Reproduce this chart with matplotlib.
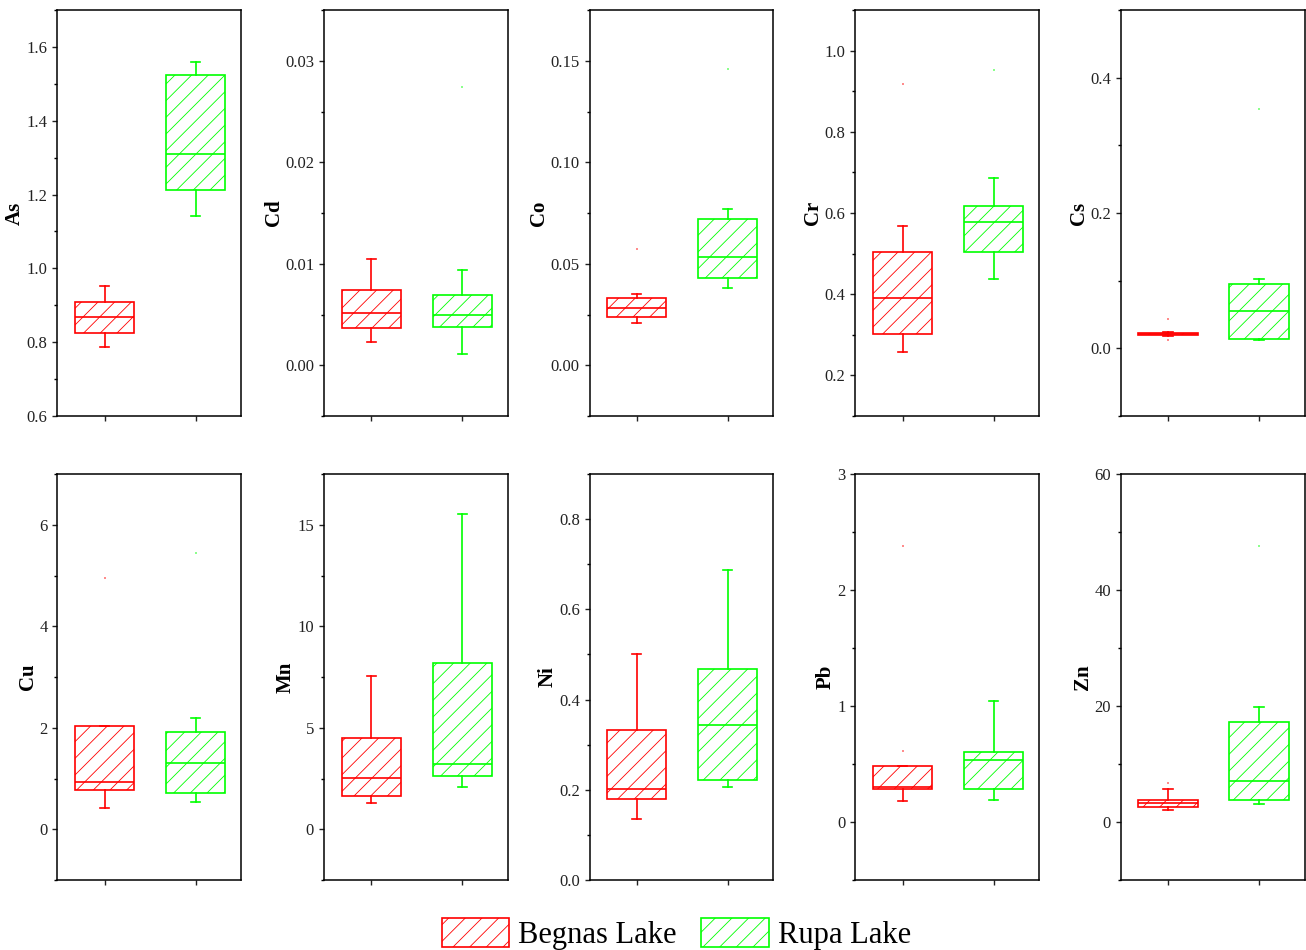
import numpy as np
import matplotlib
matplotlib.use("Agg")
import matplotlib.pyplot as plt
from matplotlib.patches import Patch
from matplotlib.ticker import MultipleLocator, AutoMinorLocator

# Box statistics: [whislo, q1, median, q3, whishi]
elements = ['As', 'Cd', 'Co', 'Cr', 'Cs', 'Cu', 'Mn', 'Ni', 'Pb', 'Zn']

begnas_stats = [
    [0.787, 0.825, 0.868, 0.910, 0.951],
    [0.00227, 0.00365, 0.00516, 0.00746, 0.01045],
    [0.021, 0.024, 0.0281, 0.033, 0.035],
    [0.257, 0.302, 0.390, 0.505, 0.567],
    [0.018, 0.019, 0.0207, 0.022, 0.024],
    [0.41, 0.775, 0.926, 2.04, 2.04],
    [1.31, 1.66, 2.51, 4.49, 7.53],
    [0.136, 0.180, 0.201, 0.333, 0.501],
    [0.181, 0.287, 0.299, 0.483, 0.483],
    [2.13, 2.59, 3.22, 3.85, 5.69],
]
rupa_stats = [
    [1.141, 1.213, 1.310, 1.523, 1.558],
    [0.00111, 0.00378, 0.00493, 0.00693, 0.00937],
    [0.0381, 0.0430, 0.0531, 0.0721, 0.0771],
    [0.438, 0.504, 0.579, 0.618, 0.685],
    [0.0118, 0.0142, 0.0547, 0.0946, 0.102],
    [0.53, 0.71, 1.31, 1.91, 2.19],
    [2.09, 2.60, 3.22, 8.20, 15.53],
    [0.207, 0.222, 0.344, 0.467, 0.687],
    [0.193, 0.282, 0.537, 0.600, 1.046],
    [3.05, 3.79, 7.01, 17.3, 19.77],
]
begnas_out = [[], [], [0.0572], [0.917], [0.044, 0.012], [4.95], [], [], [0.61, 2.38], [6.72]]
rupa_out = [[], [0.02745], [0.146], [0.952], [0.354], [5.44], [], [], [], [47.6]]

y_limits = [(0.6, 1.7), (-0.005, 0.035), (-0.025, 0.175), (0.1, 1.1), (-0.1, 0.5),
            (-1, 7), (-2.5, 17.5), (0, 0.9), (-0.5, 3), (-10, 60)]
y_steps = [0.2, 0.01, 0.05, 0.2, 0.2, 2, 5, 0.2, 1, 20]

lakes = ['Begnas Lake', 'Rupa Lake']
colors = ['#ff0000', '#00ff00']

plt.rcParams['font.family'] = ['Liberation Serif', 'DejaVu Serif']
plt.rcParams['hatch.linewidth'] = 0.6

W, H = 1306, 950
fig = plt.figure(figsize=(W / 100, H / 100), dpi=100)

lefts = [57.3, 323.8, 589.5, 855.3, 1120.7]
ax_w = 183.8
rows = [(10, 416), (474, 880)]

def stat_dict(s, out):
    return dict(whislo=s[0], q1=s[1], med=s[2], q3=s[3], whishi=s[4], fliers=out)

for i, el in enumerate(elements):
    r, c = divmod(i, 5)
    top, bot = rows[r]
    ax = fig.add_axes([lefts[c] / W, 1 - bot / H, ax_w / W, (bot - top) / H])

    for j, (stats, outs) in enumerate([(begnas_stats, begnas_out), (rupa_stats, rupa_out)]):
        col = colors[j]
        ax.bxp([stat_dict(stats[i], outs[i])], positions=[j + 1], widths=0.65,
               patch_artist=True, capwidths=0.1, manage_ticks=False,
               boxprops=dict(facecolor='white', edgecolor=col, hatch='//', linewidth=1.2),
               medianprops=dict(color=col, linewidth=1.2),
               whiskerprops=dict(color=col, linewidth=1.2),
               capprops=dict(color=col, linewidth=1.2),
               flierprops=dict(marker='s', markersize=1.6, markeredgewidth=0,
                               markerfacecolor=col, alpha=0.45))

    ax.set_xlim(0.48, 2.5)
    ax.set_ylim(*y_limits[i])
    ax.set_xticks([1, 2])
    ax.set_xticklabels([])
    ax.yaxis.set_major_locator(MultipleLocator(y_steps[i]))
    ax.yaxis.set_minor_locator(AutoMinorLocator(2))
    ax.tick_params(axis='both', which='major', direction='out', length=3.5, width=1.0,
                   labelsize=12, colors='#222222')
    ax.tick_params(axis='y', which='minor', direction='out', length=2, width=1.0)
    for sp in ax.spines.values():
        sp.set_linewidth(1.1)
    ax.set_ylabel(el, fontsize=15, fontweight='bold', labelpad=1)

handles = [Patch(facecolor='white', edgecolor=colors[k], hatch='//', linewidth=1.2, label=lakes[k])
           for k in range(2)]
fig.legend(handles=handles, loc='center', bbox_to_anchor=(0.518, 0.017), ncol=2,
           frameon=False, fontsize=22, handlelength=2.2, handleheight=1.1,
           handletextpad=0.3, columnspacing=0.8)

fig.savefig('out.png', dpi=100)
